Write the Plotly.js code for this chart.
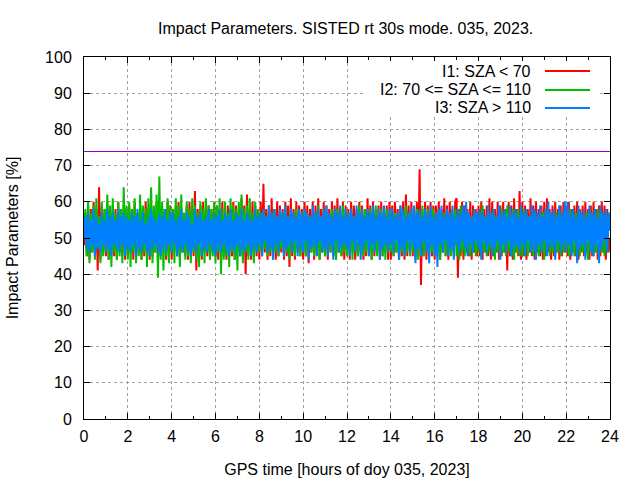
<!DOCTYPE html>
<html>
<head>
<meta charset="utf-8">
<script src="https://cdn.plot.ly/plotly-3.0.1.min.js"></script>
<style>
  html, body { margin: 0; padding: 0; background: #fff; }
  #chart { width: 640px; height: 480px; }
  #chart .shapelayer path { shape-rendering: crispEdges; }
</style>
</head>
<body>
<div id="chart"></div>
<script>
// samples every 3.75 min over the day (hours 0..24), one row = 2 hours
const startHour = 0;
const stepHour = 0.0625;

// I1: SZA < 70
const i1Values = [
    48,57,45,59,44,58,46,60,45,58,41,64,44,59,46,58,45,60,44,57,46,59,45,58,44,60,46,58,45,59,44,58,
    45,59,46,58,44,60,45,57,46,59,44,58,45,60,46,58,44,59,45,57,46,60,44,58,45,59,46,58,44,60,45,59,
    44,58,46,59,45,60,44,58,46,57,45,59,44,60,46,58,45,63,41,58,45,59,44,60,46,58,45,59,44,58,46,60,
    45,59,44,58,46,60,45,57,44,59,46,58,45,60,44,59,46,58,45,61,44,59,40,62,45,58,44,60,46,59,45,58,
    44,60,45,65,46,58,44,59,45,61,46,58,44,60,45,59,46,58,44,60,45,59,42,61,45,58,44,60,46,59,45,58,
    44,60,45,59,43,58,46,60,44,59,45,61,44,58,46,60,45,59,44,58,46,60,45,59,44,61,46,58,45,60,44,59,
    45,58,44,60,46,59,44,58,45,60,46,59,44,58,45,61,46,59,44,60,45,58,46,59,44,60,45,58,46,59,44,60,
    44,59,45,60,46,58,44,59,45,60,44,62,45,59,46,60,45,58,44,60,45,69,37,58,45,60,44,59,46,60,45,59,
    44,59,45,60,44,58,46,61,45,59,44,60,46,58,45,60,61,39,58,45,60,44,59,46,58,45,60,44,59,46,58,45,
    59,45,60,44,58,46,59,45,61,44,60,45,58,46,60,44,59,45,60,46,58,41,60,45,59,44,61,46,58,45,63,44,
    60,45,59,44,58,46,61,45,59,44,60,46,58,45,59,44,60,45,61,46,58,44,59,45,60,46,58,44,59,45,60,46,
    59,45,60,44,58,46,59,45,60,44,58,46,59,45,60,46,58,44,59,45,60,46,58,44,59,45,60,46,59,44,58,46,
    50
];

// I2: 70 <= SZA <= 110
const i2Values = [
    51,58,45,60,43,57,46,59,44,61,47,56,43,60,45,58,46,62,44,59,42,61,46,57,44,60,45,58,43,64,46,59,
    44,60,42,58,46,61,43,57,45,62,44,59,46,58,42,61,45,64,43,59,46,62,39,67,44,60,41,58,45,61,43,59,
    46,58,43,61,45,59,42,62,46,57,44,60,45,58,43,61,46,59,44,57,42,60,45,58,43,61,46,59,44,58,45,60,
    43,59,46,61,40,58,44,60,45,57,42,61,46,59,44,58,41,60,45,62,43,58,46,59,44,61,45,57,43,60,46,58,
    46,57,45,58,47,56,45,59,46,57,44,58,46,56,45,58,47,57,45,59,46,56,44,58,46,57,45,58,47,56,45,57,
    46,58,45,57,47,56,46,58,45,57,46,59,44,56,46,58,45,57,47,56,46,58,45,57,44,58,46,56,45,59,46,57,
    45,57,46,58,44,56,46,57,45,59,46,57,45,58,46,56,45,58,44,57,46,59,45,56,46,58,45,57,44,58,46,57,
    46,58,45,57,46,56,44,58,46,57,45,59,46,57,45,58,46,56,45,58,44,57,46,59,45,56,46,58,45,57,46,58,
    45,57,46,58,44,56,46,57,45,58,46,57,45,56,46,58,45,57,44,59,46,56,45,58,46,57,45,56,46,58,45,57,
    46,57,45,59,46,56,45,58,46,57,45,58,44,56,46,57,45,58,46,57,45,59,46,56,45,58,44,57,46,58,45,57,
    45,58,46,57,45,56,46,58,45,57,46,56,45,58,46,57,44,58,46,57,45,56,46,58,45,57,46,59,45,57,46,56,
    46,57,45,58,46,56,45,57,46,58,45,57,46,56,45,57,44,58,46,57,45,56,46,58,45,57,46,56,45,58,46,57,
    52
];

// I3: SZA > 110
const i3Values = [
    50,56,47,57,46,55,48,58,45,56,47,54,46,57,48,55,46,58,47,56,45,57,48,55,47,58,46,56,48,57,45,56,
    47,55,46,57,48,56,45,58,47,55,46,57,48,54,46,56,45,58,47,56,48,55,46,57,45,56,47,58,46,55,48,57,
    46,57,48,55,45,56,47,58,46,55,48,57,46,56,45,54,47,58,46,56,48,57,45,55,47,56,46,58,48,55,46,57,
    45,56,47,58,46,55,48,57,46,56,45,58,47,55,46,57,48,56,45,58,47,55,46,57,48,56,45,55,47,58,46,56,
    48,57,45,58,49,56,46,59,47,57,44,58,48,56,46,58,49,57,45,59,47,56,48,58,46,57,49,56,45,58,47,57,
    46,58,49,57,44,56,47,59,48,57,45,58,49,56,46,58,47,59,45,57,48,56,44,58,49,57,46,59,47,56,48,58,
    47,57,45,58,49,56,46,59,48,57,44,58,47,56,49,58,45,57,48,59,46,56,49,58,44,57,47,59,48,56,46,58,
    48,58,46,56,49,57,44,59,47,58,45,56,49,57,46,58,48,59,43,57,47,58,45,56,49,58,46,57,43,59,48,56,
    45,57,42,58,48,59,46,56,49,58,45,57,47,59,44,56,48,58,46,57,49,59,47,60,45,57,48,56,46,58,49,57,
    47,58,44,57,49,56,46,59,48,57,45,58,47,56,49,59,44,57,48,58,46,56,49,59,45,57,47,58,48,56,46,59,
    48,57,45,58,49,56,46,59,47,58,44,57,48,59,46,56,49,58,45,60,47,57,48,58,44,56,49,59,46,57,48,60,
    46,60,48,57,45,58,49,56,43,59,47,57,48,58,44,56,49,59,46,57,45,58,48,56,43,59,47,57,49,58,46,57,
    52
];

const thresholdLevel = 74;

const seriesNames = ['I1: SZA < 70', 'I2: 70 <= SZA <= 110', 'I3: SZA > 110'];
const seriesColors = ['#ff0000', '#00c000', '#0080ff'];
const xTickVals = [0, 2, 4, 6, 8, 10, 12, 14, 16, 18, 20, 22, 24];
const yTickVals = [0, 10, 20, 30, 40, 50, 60, 70, 80, 90, 100];

const fontFamily = '"Liberation Sans", Arial, sans-serif';

const traces = [i1Values, i2Values, i3Values].map((vals, k) => ({
    x: vals.map((v, i) => startHour + i * stepHour),
    y: vals,
    type: 'scatter',
    mode: 'lines',
    name: seriesNames[k],
    line: {color: seriesColors[k], width: 2},
    hoverinfo: 'skip'
}));

// legend drawn gnuplot-style: text right aligned, sample line on the right
const legendRows = [0.96, 0.91, 0.86];
const shapes = [
    {type: 'rect', xref: 'paper', yref: 'paper', x0: 0.53, x1: 0.98, y0: 0.835, y1: 0.99,
     fillcolor: '#ffffff', line: {width: 0}, layer: 'above'},
    {type: 'line', xref: 'paper', yref: 'y', x0: 0, x1: 1, y0: thresholdLevel, y1: thresholdLevel,
     line: {color: '#9400d3', width: 1}, layer: 'above'}
];
const annotations = [];
seriesNames.forEach((name, k) => {
    shapes.push({type: 'line', xref: 'paper', yref: 'paper', x0: 0.876, x1: 0.962,
        y0: legendRows[k], y1: legendRows[k], line: {color: seriesColors[k], width: 2}, layer: 'above'});
    annotations.push({xref: 'paper', yref: 'paper', x: 0.853, y: legendRows[k], xanchor: 'right', yanchor: 'middle',
        text: name, showarrow: false, font: {family: fontFamily, size: 16, color: '#000'}});
});

const axisBase = {
    showline: true,
    linecolor: '#000',
    linewidth: 1,
    mirror: 'ticks',
    ticks: 'inside',
    ticklen: 6,
    tickcolor: '#000',
    showgrid: true,
    gridcolor: '#a0a0a0',
    griddash: 'dot',
    gridwidth: 1,
    zeroline: false,
    tickfont: {family: fontFamily, size: 16, color: '#000'}
};

const layout = {
    width: 640,
    height: 480,
    paper_bgcolor: '#fff',
    plot_bgcolor: '#fff',
    showlegend: false,
    margin: {l: 84, r: 30, t: 57, b: 61},
    font: {family: fontFamily, size: 16, color: '#000'},
    title: {
        text: 'Impact Parameters. SISTED rt 30s mode. 035, 2023.',
        font: {family: fontFamily, size: 16, color: '#000'},
        x: 0.54, xanchor: 'center', y: 0.94, yanchor: 'middle'
    },
    xaxis: Object.assign({}, axisBase, {
        range: [0, 24],
        tickvals: xTickVals,
        ticktext: xTickVals.map(String),
        ticklabelstandoff: 3,
        minor: {dtick: 1, ticks: 'inside', ticklen: 3, tickcolor: '#000', showgrid: false},
        title: {text: 'GPS time [hours of doy 035, 2023]', font: {family: fontFamily, size: 16, color: '#000'}, standoff: 19}
    }),
    yaxis: Object.assign({}, axisBase, {
        range: [0, 100],
        tickvals: yTickVals,
        ticktext: yTickVals.map(String),
        ticklabelstandoff: 8,
        title: {text: 'Impact Parameters [%]', font: {family: fontFamily, size: 16, color: '#000'}, standoff: 22}
    }),
    shapes: shapes,
    annotations: annotations
};

Plotly.newPlot('chart', traces, layout, {staticPlot: true, displayModeBar: false});
</script>
</body>
</html>
